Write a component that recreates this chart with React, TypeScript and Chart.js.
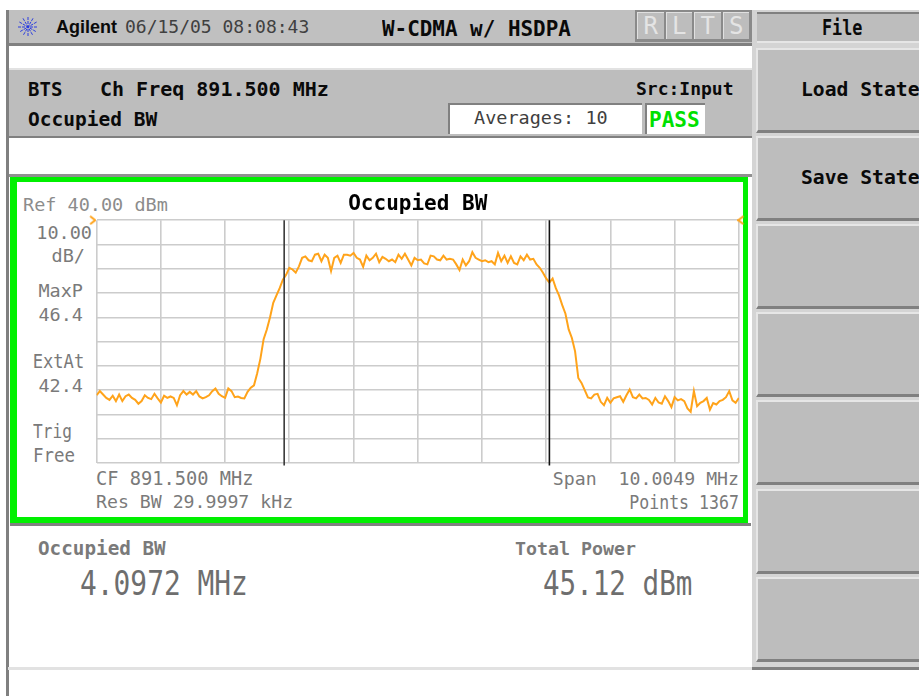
import React, { useEffect, useRef } from "react";
import { Chart, registerables } from "chart.js";

Chart.register(...registerables);

// ---------- data ----------
const sweepFreqMHz = [
  886.50, 886.55, 886.60, 886.65, 886.70, 886.75, 886.80, 886.85, 886.90, 886.95,
  887.00, 887.05, 887.10, 887.15, 887.20, 887.25, 887.30, 887.35, 887.40, 887.45,
  887.50, 887.55, 887.60, 887.65, 887.70, 887.75, 887.80, 887.85, 887.90, 887.95,
  888.00, 888.05, 888.10, 888.15, 888.20, 888.25, 888.30, 888.35, 888.40, 888.45,
  888.50, 888.55, 888.60, 888.65, 888.70, 888.75, 888.80, 888.85, 888.90, 888.95,
  889.00, 889.05, 889.10, 889.15, 889.20, 889.25, 889.30, 889.35, 889.40, 889.45,
  889.50, 889.55, 889.60, 889.65, 889.70, 889.75, 889.80, 889.85, 889.90, 889.95,
  890.00, 890.05, 890.10, 890.15, 890.20, 890.25, 890.30, 890.35, 890.40, 890.45,
  890.50, 890.55, 890.60, 890.65, 890.70, 890.75, 890.80, 890.85, 890.90, 890.95,
  891.00, 891.05, 891.10, 891.15, 891.20, 891.25, 891.30, 891.35, 891.40, 891.45,
  891.50, 891.55, 891.60, 891.65, 891.70, 891.75, 891.80, 891.85, 891.90, 891.95,
  892.00, 892.05, 892.10, 892.15, 892.20, 892.25, 892.30, 892.35, 892.40, 892.45,
  892.50, 892.55, 892.60, 892.65, 892.70, 892.75, 892.80, 892.85, 892.90, 892.95,
  893.00, 893.05, 893.10, 893.15, 893.20, 893.25, 893.30, 893.35, 893.40, 893.45,
  893.50, 893.55, 893.60, 893.65, 893.70, 893.75, 893.80, 893.85, 893.90, 893.95,
  894.00, 894.05, 894.10, 894.15, 894.20, 894.25, 894.30, 894.35, 894.40, 894.45,
  894.50, 894.55, 894.60, 894.65, 894.70, 894.75, 894.80, 894.85, 894.90, 894.95,
  895.00, 895.05, 895.10, 895.15, 895.20, 895.25, 895.30, 895.35, 895.40, 895.45,
  895.50, 895.55, 895.60, 895.65, 895.70, 895.75, 895.80, 895.85, 895.90, 895.95,
  896.00, 896.05, 896.10, 896.15, 896.20, 896.25, 896.30, 896.35, 896.40, 896.45,
  896.50,
];
const traceLevelDBm = [
  -32.1, -30.4, -31.8, -33.2, -34.0, -32.3, -34.5, -31.8, -34.5, -32.5,
  -31.8, -33.2, -34.0, -35.6, -34.5, -32.1, -33.2, -33.7, -31.5, -33.4,
  -35.1, -32.3, -33.2, -32.6, -33.2, -36.2, -32.1, -30.4, -31.8, -30.7,
  -31.8, -30.4, -32.6, -33.4, -32.9, -32.1, -30.4, -29.3, -31.5, -32.5,
  -33.2, -29.3, -30.4, -32.9, -32.6, -33.2, -33.4, -30.7, -29.0, -28.0,
  -23.0, -17.0, -9.0, -5.0, 0.0, 6.0, 9.0, 12.0, 15.5, 17.5,
  20.4, 19.7, 18.4, 21.0, 24.5, 25.1, 23.5, 23.1, 25.8, 26.2,
  23.1, 25.8, 24.5, 19.1, 24.5, 25.4, 22.4, 25.8, 25.8, 25.4,
  26.5, 24.5, 23.8, 20.8, 25.4, 23.5, 24.5, 26.2, 22.7, 24.9,
  24.1, 23.1, 23.8, 22.7, 25.8, 24.1, 26.2, 23.8, 21.4, 24.5,
  23.5, 23.8, 22.2, 21.8, 25.4, 25.1, 23.8, 23.5, 25.4, 23.8,
  24.1, 23.8, 21.8, 19.5, 23.8, 21.4, 23.1, 26.8, 24.5, 23.8,
  23.1, 23.5, 22.7, 23.1, 21.8, 26.5, 23.1, 25.4, 22.4, 25.1,
  22.4, 21.8, 25.1, 23.5, 25.8, 23.8, 24.1, 21.8, 20.4, 18.4,
  16.0, 14.3, 16.0, 12.0, 9.0, 5.0, 1.5, -5.0, -8.5, -14.0,
  -25.0, -27.0, -30.0, -33.0, -33.4, -31.8, -31.5, -34.8, -36.2, -33.2,
  -35.2, -33.4, -32.9, -32.5, -34.8, -32.1, -29.7, -32.9, -33.4, -31.8,
  -33.4, -33.2, -34.0, -35.9, -33.2, -35.1, -35.6, -32.5, -34.5, -37.0,
  -32.9, -34.2, -33.7, -34.5, -37.5, -38.9, -30.4, -36.6, -35.2, -34.5,
  -33.2, -38.0, -35.3, -35.9, -34.5, -34.0, -32.9, -30.4, -34.2, -35.2,
  -33.2,
];
const markerFreqMHz = [889.42, 893.55];
const markerLevelDBm = [40, -61];
const chevronFreqMHz = [886.43, 896.54];
const chevronLevelDBm = [40, 40];
const xGridMHz = [886.4976, 887.4981, 888.4986, 889.4991, 890.4995, 891.5, 892.5005, 893.5009, 894.5014, 895.5019, 896.5024];
const yGridDBm = [-60, -50, -40, -30, -20, -10, 0, 10, 20, 30, 40];

const softKeyLabels = ["Load State", "Save State", "", "", "", "", ""];
const statusFlags = ["R", "L", "T", "S"];

const MONO = '"DejaVu Sans Mono", monospace';

// ---------- layout of the instrument screen ----------
type T = { t: string; x: number; y: number; s: number; b?: boolean; c: string; right?: boolean; sx?: number; font?: string };
const BK = "#0a0a0a";
const G1 = "#8c8c8c";
const G2 = "#7a7a7a";
const texts: T[] = [
  { t: "Agilent", x: 56, y: 27, s: 18, b: true, c: BK, font: '"Liberation Sans", sans-serif' },
  { t: "06/15/05 08:08:43", x: 125, y: 27, s: 18, c: "#404040" },
  { t: "W-CDMA w/ HSDPA", x: 382, y: 29, s: 20.5, b: true, c: BK, sx: 1.02 },
  { t: "BTS", x: 28, y: 89, s: 20, b: true, c: BK, sx: 0.95 },
  { t: "Ch Freq 891.500 MHz", x: 100, y: 89, s: 20, b: true, c: BK },
  { t: "Src:Input", x: 636, y: 89, s: 18, b: true, c: BK },
  { t: "Occupied BW", x: 28, y: 120, s: 19.5, b: true, c: BK },
  { t: "Averages: 10", x: 474, y: 118, s: 18.5, c: "#404040" },
  { t: "PASS", x: 649, y: 120, s: 21, b: true, c: "#00e000" },
  { t: "File", x: 822, y: 28, s: 21, b: true, c: BK, sx: 0.8 },
  { t: "Ref 40.00 dBm", x: 23, y: 205, s: 18.5, c: G1 },
  { t: "10.00", x: 92, y: 233, s: 18.5, c: G2, right: true },
  { t: "dB/", x: 85, y: 256, s: 18.5, c: G2, right: true },
  { t: "MaxP", x: 83, y: 291, s: 18.5, c: G2, right: true },
  { t: "46.4", x: 83, y: 315, s: 18.5, c: G2, right: true },
  { t: "ExtAt", x: 84, y: 361, s: 19, c: G2, right: true, sx: 0.9 },
  { t: "42.4", x: 83, y: 386, s: 18.5, c: G2, right: true },
  { t: "Trig", x: 33, y: 431, s: 19, c: G2, sx: 0.85 },
  { t: "Free", x: 33, y: 455, s: 19, c: G2, sx: 0.92 },
  { t: "CF 891.500 MHz", x: 96, y: 479, s: 18.7, c: G2 },
  { t: "Res BW 29.9997 kHz", x: 96, y: 502, s: 18.2, c: G2 },
  { t: "Span  10.0049 MHz", x: 739, y: 479, s: 18.2, c: G2, right: true },
  { t: "Points 1367", x: 739, y: 502, s: 19, c: G2, right: true, sx: 0.87 },
  { t: "Occupied BW", x: 38, y: 549, s: 19.3, b: true, c: G2 },
  { t: "Total Power", x: 515, y: 549, s: 18.3, b: true, c: G2 },
  { t: "4.0972 MHz", x: 80, y: 584, s: 33, c: "#6e6e6e", sx: 0.845 },
  { t: "45.12 dBm", x: 543, y: 584, s: 33, c: "#6e6e6e", sx: 0.835 },
];

type R = { x: number; y: number; w: number; h: number; c: string };
const rects: R[] = [
  { x: 6, y: 10, w: 746, h: 34, c: "#c0c0c0" },
  { x: 6, y: 43, w: 746, h: 3, c: "#808080" },
  { x: 6, y: 10, w: 3, h: 686, c: "#808080" },
  { x: 9, y: 68, w: 743, h: 2, c: "#e2e2e2" },
  { x: 9, y: 70, w: 743, h: 66, c: "#bdbdbd" },
  { x: 9, y: 136, w: 743, h: 2, c: "#808080" },
  { x: 9, y: 174, w: 743, h: 3, c: "#909090" },
  { x: 10, y: 523, w: 741, h: 3, c: "#808080" },
  { x: 8, y: 667, w: 744, h: 3, c: "#e2e2e2" },
  { x: 752, y: 10, w: 167, h: 660, c: "#d4d4d4" },
  { x: 752, y: 667, w: 167, h: 3, c: "#808080" },
];

function Star() {
  const spokes = [0, 30, 60, 90, 120, 150];
  return (
    <svg width={26} height={26} viewBox="-13 -13 26 26" style={{ position: "absolute", left: 15, top: 14 }}>
      {spokes.map((a) => (
        <line key={a} x1={-10 * Math.cos((a * Math.PI) / 180)} y1={-10 * Math.sin((a * Math.PI) / 180)}
          x2={10 * Math.cos((a * Math.PI) / 180)} y2={10 * Math.sin((a * Math.PI) / 180)}
          stroke="#2a3ce0" strokeWidth={1} strokeDasharray="3 1" />
      ))}
    </svg>
  );
}

function chevron(flip: boolean) {
  const c = document.createElement("canvas");
  c.width = 8;
  c.height = 10;
  const g = c.getContext("2d")!;
  g.strokeStyle = "#ffa31a";
  g.lineWidth = 2;
  g.beginPath();
  if (flip) { g.moveTo(6, 1); g.lineTo(1, 5); g.lineTo(6, 9); }
  else { g.moveTo(2, 1); g.lineTo(7, 5); g.lineTo(2, 9); }
  g.stroke();
  return c;
}

export default function App() {
  const ref = useRef<HTMLCanvasElement>(null);
  useEffect(() => {
    const chart = new Chart(ref.current!, {
      type: "line",
      data: {
        datasets: [
          {
            label: "Trace",
            data: sweepFreqMHz.map((x, i) => ({ x, y: traceLevelDBm[i] })),
            borderColor: "#ffa31a",
            borderWidth: 2,
            borderJoinStyle: "miter",
            pointRadius: 0,
            tension: 0,
            order: 2,
          },
          {
            label: "OBW lower",
            data: markerLevelDBm.map((y) => ({ x: markerFreqMHz[0], y })),
            borderColor: "#3a3a3a",
            borderWidth: 1.6,
            pointRadius: 0,
            clip: false,
            order: 1,
          },
          {
            label: "OBW upper",
            data: markerLevelDBm.map((y) => ({ x: markerFreqMHz[1], y })),
            borderColor: "#111111",
            borderWidth: 1.6,
            pointRadius: 0,
            clip: false,
            order: 1,
          },
          {
            label: "Ref",
            data: chevronFreqMHz.map((x, i) => ({ x, y: chevronLevelDBm[i] })),
            showLine: false,
            pointStyle: [chevron(false), chevron(true)],
            pointRadius: 5,
            clip: false,
            order: 0,
          },
        ],
      },
      options: {
        animation: false,
        responsive: false,
        maintainAspectRatio: false,
        events: [],
        layout: { padding: { left: 96.5, right: 97, top: 0, bottom: 233 } },
        plugins: {
          legend: { display: false },
          tooltip: { enabled: false },
          title: {
            display: true,
            text: "Occupied BW",
            color: "#000000",
            font: { family: MONO, size: 21, weight: "bold" },
            padding: { top: 192, bottom: 3 },
          },
        },
        scales: {
          x: {
            type: "linear",
            min: 886.4976,
            max: 896.5024,
            afterBuildTicks: (a: any) => { a.ticks = xGridMHz.map((value) => ({ value })); },
            grid: { color: "#cccccc", lineWidth: 1.6, drawTicks: false },
            border: { display: false },
            ticks: { display: false },
          },
          y: {
            type: "linear",
            min: -60,
            max: 40,
            afterBuildTicks: (a: any) => { a.ticks = yGridDBm.map((value) => ({ value })); },
            grid: { color: "#cccccc", lineWidth: 1.6, drawTicks: false },
            border: { display: false },
            ticks: { display: false },
          },
        },
      },
    } as any);
    return () => chart.destroy();
  }, []);

  const abs: React.CSSProperties = { position: "absolute" };
  return (
    <div style={{ ...abs, left: 0, top: 0, width: 919, height: 696, overflow: "hidden", background: "#fff", fontFamily: MONO }}>
      {rects.map((r, i) => (
        <div key={i} style={{ ...abs, left: r.x, top: r.y, width: r.w, height: r.h, background: r.c }} />
      ))}
      <Star />
      {/* R L T S flags */}
      <div style={{ ...abs, left: 635, top: 10, width: 117, height: 32, background: "#8a8a8a" }} />
      {statusFlags.map((f, i) => (
        <div key={f} style={{ ...abs, left: 637 + i * 28.5, top: 12, width: 26.5, height: 27, background: "#bdbdbd",
          borderTop: "1px solid #e0e0e0", borderLeft: "1px solid #e0e0e0", boxSizing: "border-box",
          color: "#e4e4e4", fontSize: 24, lineHeight: "27px", textAlign: "center" }}>{f}</div>
      ))}
      {/* file header */}
      <div style={{ ...abs, left: 757, top: 12, width: 162, height: 31, background: "#bdbdbd", borderTop: "2px solid #808080", borderBottom: "2px solid #e6e6e6", boxSizing: "border-box" }} />
      {/* soft keys */}
      {softKeyLabels.map((label, i) => (
        <div key={i} style={{ ...abs, left: 756, top: 48 + i * 88.1, width: 170, height: 85, boxSizing: "border-box",
          background: "#bdbdbd", borderTop: "2px solid #e6e6e6", borderLeft: "2px solid #e6e6e6", borderBottom: "3px solid #808080",
          color: BK, fontWeight: "bold", fontSize: 19.7, whiteSpace: "pre", lineHeight: "80px", paddingLeft: 43 }}>{label}</div>
      ))}
      {/* averages + pass boxes */}
      <div style={{ ...abs, left: 448, top: 103, width: 194, height: 31, boxSizing: "border-box", background: "#fff", borderTop: "2px solid #808080", borderLeft: "2px solid #808080" }} />
      <div style={{ ...abs, left: 645, top: 103, width: 60, height: 31, boxSizing: "border-box", background: "#fff", borderTop: "2px solid #808080", borderLeft: "2px solid #808080" }} />
      {/* green frame */}
      <div style={{ ...abs, left: 10, top: 177, width: 738, height: 346, boxSizing: "border-box", background: "#fff",
        borderStyle: "solid", borderColor: "#00f000", borderWidth: "5px 5px 6px 7px" }} />
      {texts.map((t, i) => (
        <span key={i} style={{
          ...abs, top: t.y, whiteSpace: "pre", lineHeight: 0, fontSize: t.s, color: t.c,
          fontWeight: t.b ? "bold" : "normal", fontFamily: t.font ?? MONO,
          ...(t.right ? { right: 919 - t.x } : { left: t.x }),
          transform: t.sx ? `scaleX(${t.sx})` : undefined, transformOrigin: t.right ? "right center" : "left center",
        }}>{t.t}</span>
      ))}
      <canvas ref={ref} width={836} height={696} style={{ ...abs, left: 0, top: 0, width: 836, height: 696 }} />
    </div>
  );
}
